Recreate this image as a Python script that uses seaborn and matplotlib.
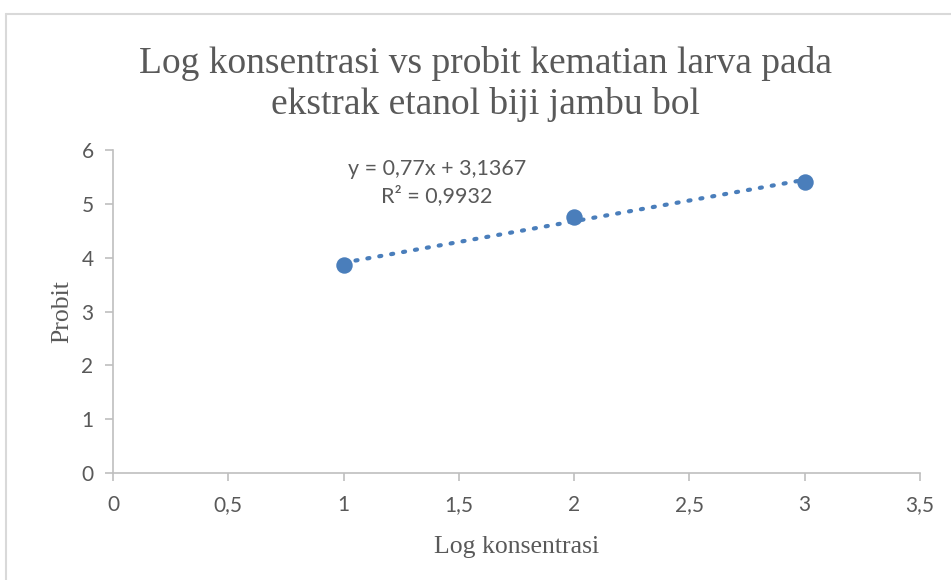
import matplotlib
matplotlib.use("Agg")
import matplotlib.pyplot as plt
import seaborn as sns
import pandas as pd
import numpy as np
from matplotlib.lines import Line2D

log_konsentrasi = [1, 2, 3]
probit = [3.87, 4.75, 5.41]
slope = 0.77
intercept = 3.1367
eq_text = "y = 0,77x + 3,1367\nR² = 0,9932"
title = "Log konsentrasi vs probit kematian larva pada\nekstrak etanol biji jambu bol"
xlabel = "Log konsentrasi"
ylabel = "Probit"
xticks = [0, 0.5, 1, 1.5, 2, 2.5, 3, 3.5]
yticks = [0, 1, 2, 3, 4, 5, 6]

sns.set_style("white")
plt.rcParams['font.family'] = ['Lato', 'DejaVu Sans']

df = pd.DataFrame({"x": log_konsentrasi, "y": probit})

fig = plt.figure(figsize=(9.51, 5.80), dpi=100)
ax = fig.add_axes([113/951, 1-473/580, (920-113)/951, (473-150)/580])

blue = "#4A7EBB"
grey = "#595959"
axis_grey = "#BFBFBF"

xs = np.array([min(log_konsentrasi), max(log_konsentrasi)])
ax.plot(xs, slope*xs + intercept, linestyle=(0, (0.5, 2.4)), color=blue, lw=3, dash_capstyle='round', zorder=2)
sns.scatterplot(data=df, x="x", y="y", ax=ax, s=140, color=blue, edgecolor=blue, linewidth=0, zorder=3)

ax.set_xlim(0, 3.5)
ax.set_ylim(0, 6)
ax.set_xticks(xticks)
ax.set_yticks(yticks)
ax.set_xticklabels([("%g" % t).replace(".", ",") for t in xticks])
ax.set_yticklabels([str(t) for t in yticks])
ax.tick_params(axis='both', colors=axis_grey, labelcolor=grey, labelsize=15, length=6, width=1.2, direction='out',
               bottom=True, left=True)
ax.tick_params(axis='x', pad=10)
ax.tick_params(axis='y', pad=8)
for s in ['top', 'right']:
    ax.spines[s].set_visible(False)
for s in ['left', 'bottom']:
    ax.spines[s].set_color(axis_grey)
    ax.spines[s].set_linewidth(1.2)

ax.set_xlabel(xlabel, family='Liberation Serif', fontsize=18.5, color=grey, labelpad=15)
ax.set_ylabel(ylabel, family='Liberation Serif', fontsize=18.5, color=grey, labelpad=6)

ax.text(1.405, 5.40, eq_text, ha='center', va='center', fontsize=15.5, color=grey, linespacing=1.35)

fig.text(485/951, 1-84/580, title, ha='center', va='center', family='Liberation Serif', fontsize=27, color=grey, linespacing=1.25)

fig.add_artist(Line2D([6/951, 1], [1-14/580, 1-14/580], transform=fig.transFigure, color="#D9D9D9", lw=1.5))
fig.add_artist(Line2D([6/951, 6/951], [0, 1-14/580], transform=fig.transFigure, color="#D9D9D9", lw=1.5))

fig.savefig("out.png", dpi=100)
